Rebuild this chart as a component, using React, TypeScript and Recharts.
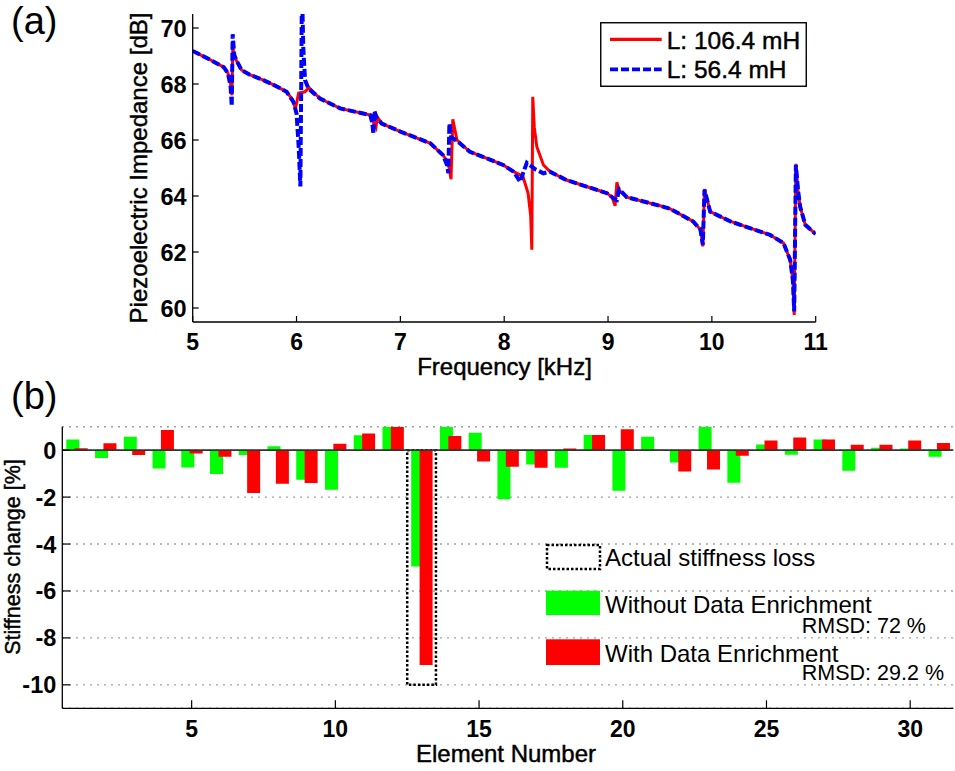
import React from 'react';
import {
  LineChart, Line, XAxis, YAxis, Legend, BarChart, Bar, CartesianGrid, ReferenceArea, ReferenceLine,
} from 'recharts';

const FONT = '"Liberation Sans", Arial, Helvetica, sans-serif';

// ---------- Panel (a): piezoelectric impedance ----------
const redFreq = [5.00, 5.15, 5.30, 5.34, 5.365, 5.378, 5.386, 5.40, 5.42, 5.47, 5.55, 5.68, 5.80, 5.905, 5.96, 5.99, 6.02, 6.08, 6.12, 6.226, 6.42, 6.60, 6.71, 6.73, 6.765, 6.778, 6.82, 7.00, 7.29, 7.41, 7.46, 7.488, 7.505, 7.545, 7.67, 7.99, 8.09, 8.18, 8.23, 8.255, 8.266, 8.275, 8.29, 8.314, 8.378, 8.44, 8.60, 8.99, 9.04, 9.068, 9.085, 9.107, 9.18, 9.50, 9.60, 9.82, 9.89, 9.913, 9.929, 9.984, 10.18, 10.56, 10.69, 10.754, 10.78, 10.793, 10.809, 10.83, 10.85, 10.90, 11.00];
const redImp = [69.18, 68.90, 68.60, 68.38, 68.00, 67.60, 69.30, 69.00, 68.85, 68.50, 68.33, 68.14, 67.93, 67.72, 67.45, 67.12, 67.68, 67.72, 67.87, 67.48, 67.13, 66.98, 66.89, 66.70, 66.45, 66.83, 66.59, 66.30, 65.88, 65.46, 65.20, 64.60, 66.74, 66.00, 65.58, 65.11, 64.87, 64.70, 64.10, 63.30, 62.08, 67.54, 66.45, 65.76, 65.11, 64.87, 64.57, 64.10, 63.95, 63.65, 64.49, 64.20, 63.96, 63.65, 63.54, 63.09, 62.80, 62.20, 64.25, 63.44, 63.09, 62.61, 62.32, 61.72, 61.00, 59.75, 65.15, 64.20, 63.62, 62.97, 62.64];

const blueFreq = [5.00, 5.15, 5.30, 5.34, 5.365, 5.376, 5.385, 5.40, 5.42, 5.47, 5.55, 5.68, 5.80, 5.905, 5.97, 6.00, 6.02, 6.037, 6.045, 6.052, 6.065, 6.082, 6.114, 6.226, 6.42, 6.60, 6.71, 6.73, 6.74, 6.75, 6.77, 6.82, 7.00, 7.29, 7.41, 7.45, 7.462, 7.472, 7.49, 7.55, 7.67, 7.99, 8.09, 8.153, 8.218, 8.30, 8.378, 8.44, 8.60, 8.99, 9.06, 9.085, 9.107, 9.18, 9.50, 9.60, 9.82, 9.89, 9.913, 9.929, 9.984, 10.18, 10.56, 10.69, 10.754, 10.78, 10.793, 10.809, 10.83, 10.85, 10.90, 11.00];
const blueImp = [69.18, 68.90, 68.60, 68.38, 67.90, 67.21, 69.78, 69.05, 68.85, 68.50, 68.33, 68.14, 67.93, 67.72, 67.36, 66.95, 65.80, 64.34, 68.00, 71.50, 69.30, 68.14, 67.84, 67.48, 67.13, 66.98, 66.89, 66.60, 66.21, 67.04, 66.80, 66.59, 66.30, 65.88, 65.46, 65.10, 64.81, 66.59, 66.10, 65.95, 65.58, 65.11, 64.87, 64.51, 65.19, 64.95, 64.81, 64.87, 64.57, 64.10, 63.90, 63.86, 64.24, 63.96, 63.65, 63.54, 63.09, 62.80, 62.26, 64.22, 63.44, 63.09, 62.61, 62.32, 61.72, 61.00, 59.88, 65.11, 64.20, 63.62, 62.97, 62.64];

const freqTicks = [5, 6, 7, 8, 9, 10, 11];
const impTicks = [60, 62, 64, 66, 68, 70];
const seriesNamesA = ['L: 106.4 mH', 'L: 56.4 mH'];

// ---------- Panel (b): stiffness change ----------
const elements = [1, 2, 3, 4, 5, 6, 7, 8, 9, 10, 11, 12, 13, 14, 15, 16, 17, 18, 19, 20, 21, 22, 23, 24, 25, 26, 27, 28, 29, 30, 31];
const withoutEnrichment = [0.45, -0.33, 0.57, -0.78, -0.74, -1.02, -0.21, 0.17, -1.26, -1.69, 0.64, 1.0, -4.96, 1.0, 0.74, -2.09, -0.61, -0.75, 0.65, -1.73, 0.57, -0.53, 1.0, -1.39, 0.24, -0.2, 0.45, -0.88, 0.1, 0.07, -0.28];
const withEnrichment = [0.08, 0.3, -0.21, 0.86, -0.14, -0.28, -1.83, -1.43, -1.4, 0.27, 0.71, 1.0, -9.15, 0.6, -0.48, -0.71, -0.75, 0.07, 0.65, 0.89, 0.02, -0.91, -0.82, -0.24, 0.41, 0.54, 0.45, 0.23, 0.23, 0.41, 0.31];
const actualLossElements = [13];
const actualLossValues = [-10];
const elementTicks = [5, 10, 15, 20, 25, 30];
const stiffTicks = [0, -2, -4, -6, -8, -10];
const legendLabelsB = ['Actual stiffness loss', 'Without Data Enrichment', 'With Data Enrichment'];
const rmsdLabels = ['RMSD: 72 %', 'RMSD: 29.2 %'];

const redData = redFreq.map((f, i) => ({ f, v: redImp[i] }));
const blueData = blueFreq.map((f, i) => ({ f, v: blueImp[i] }));
const barData = elements.map((el, i) => ({ el, without: withoutEnrichment[i], with: withEnrichment[i] }));

// ---------- custom ticks ----------
const makeBottomTick = (len: number, labelDy: number, fs: number, filter?: (v: number) => boolean) => (props: any) => {
  const { x, y, payload } = props;
  if (filter && !filter(payload.value)) return <g />;
  return (
    <g>
      <line x1={x} y1={y} x2={x} y2={y - len} stroke="#000" strokeWidth={1.2} />
      <text x={x} y={y + labelDy} textAnchor="middle" fontFamily={FONT} fontSize={fs} fontWeight={700} fill="#000">
        {payload.value}
      </text>
    </g>
  );
};

const LeftTick = (props: any) => {
  const { x, y, payload, len, fs } = props;
  return (
    <g>
      <line x1={x} y1={y} x2={x + len} y2={y} stroke="#000" strokeWidth={1.2} />
      <text x={x - 6} y={y + 8.5} textAnchor="end" fontFamily={FONT} fontSize={fs} fontWeight={700} fill="#000">
        {payload.value}
      </text>
    </g>
  );
};
const makeTopTick = (len: number, color: string) => (props: any) => {
  const { x, y } = props;
  return <line x1={x} y1={y} x2={x} y2={y + len} stroke={color} strokeWidth={1.2} />;
};
const makeRightTick = (len: number, color: string) => (props: any) => {
  const { x, y } = props;
  return <line x1={x} y1={y} x2={x - len} y2={y} stroke={color} strokeWidth={1.2} />;
};

const heavy = { stroke: '#000', strokeWidth: 0.45 };

const LegendA = () => (
  <svg width={208} height={66} style={{ display: 'block' }}>
    <rect x={0.75} y={0.75} width={205.5} height={63.5} fill="#fff" stroke="#000" strokeWidth={1.4} />
    <line x1={10} y1={17.3} x2={61.7} y2={17.3} stroke="#ff0000" strokeWidth={3.2} />
    <text x={66.7} y={26.6} fontFamily={FONT} fontSize={24.5} fill="#000" {...heavy}>{seriesNamesA[0]}</text>
    <line x1={10} y1={47.3} x2={61.7} y2={47.3} stroke="#0000ff" strokeWidth={3.8} strokeDasharray="8 3" />
    <text x={66.7} y={56.3} fontFamily={FONT} fontSize={24.5} fill="#000" {...heavy}>{seriesNamesA[1]}</text>
  </svg>
);

const LegendB = () => (
  <svg width={410} height={146} style={{ display: 'block' }}>
    <rect x={7} y={5} width={53} height={24} fill="none" stroke="#000" strokeWidth={2.5} strokeDasharray="2.5 2" />
    <text x={65} y={25.7} fontFamily={FONT} fontSize={24} fill="#000">{legendLabelsB[0]}</text>
    <rect x={6} y={50.7} width={54} height={24.3} fill="#00ff00" />
    <text x={65} y={72.7} fontFamily={FONT} fontSize={24} fill="#000">{legendLabelsB[1]}</text>
    <text x={386} y={93.3} textAnchor="end" fontFamily={FONT} fontSize={21.5} fill="#000">{rmsdLabels[0]}</text>
    <rect x={6} y={99.3} width={54} height={25.7} fill="#ff0000" />
    <text x={65} y={121.7} fontFamily={FONT} fontSize={24} fill="#000">{legendLabelsB[2]}</text>
    <text x={404} y={140} textAnchor="end" fontFamily={FONT} fontSize={21.5} fill="#000">{rmsdLabels[1]}</text>
  </svg>
);

export default function App() {
  return (
    <div style={{ position: 'absolute', left: 0, top: 0, width: 955, height: 771, overflow: 'hidden', background: '#fff', fontFamily: FONT }}>
      {/* Panel (a) */}
      <div style={{ position: 'absolute', left: 0, top: 0 }}>
        <LineChart width={955} height={390} margin={{ top: 14, right: 139.3, bottom: 0, left: 0 }}>
          <XAxis xAxisId={0} dataKey="f" type="number" domain={[5, 11]} ticks={freqTicks} allowDataOverflow
            height={68} tickSize={0} tickMargin={0} tickLine={false} axisLine={{ stroke: '#000', strokeWidth: 1.3 }}
            tick={makeBottomTick(6, 28, 23)} interval={0} />
          <XAxis xAxisId="top" orientation="top" type="number" domain={[5, 11]} ticks={freqTicks} allowDataOverflow
            height={0} tickSize={0} tickMargin={0} tickLine={false} axisLine={{ stroke: '#808080', strokeWidth: 1.5 }}
            tick={makeTopTick(6, '#808080')} interval={0} />
          <YAxis yAxisId={0} type="number" domain={[59.5, 70.5]} ticks={impTicks} allowDataOverflow width={192.7}
            tickSize={0} tickMargin={0} tickLine={false} axisLine={{ stroke: '#000', strokeWidth: 1.3 }}
            tick={<LeftTick len={6} fs={23.5} />} interval={0} />
          <YAxis yAxisId="right" orientation="right" type="number" domain={[59.5, 70.5]} ticks={impTicks} allowDataOverflow width={0}
            tickSize={0} tickMargin={0} tickLine={false} axisLine={{ stroke: '#808080', strokeWidth: 1.5 }}
            tick={makeRightTick(6, '#808080')} interval={0} />
          <Line data={redData} dataKey="v" name={seriesNamesA[0]} type="linear" stroke="#ff0000" strokeWidth={3}
            dot={false} activeDot={false} isAnimationActive={false} />
          <Line data={blueData} dataKey="v" name={seriesNamesA[1]} type="linear" stroke="#0000ff" strokeWidth={4}
            strokeDasharray="8 3" dot={false} activeDot={false} isAnimationActive={false} />
          <Legend layout="horizontal" verticalAlign="middle" align="center"
            wrapperStyle={{ left: 600, top: 22, width: 208, height: 66 }} content={() => <LegendA />} />
        </LineChart>
      </div>

      {/* Panel (b) */}
      <div style={{ position: 'absolute', left: 0, top: 390 }}>
        <BarChart width={955} height={381} data={barData} barGap={-4.6}
          margin={{ top: 36.7, right: 1.7, bottom: 0, left: 0 }}>
          <CartesianGrid horizontal vertical={false} stroke="#7a7a7a" strokeWidth={1.4} strokeDasharray="1.4 5.6" />
          <XAxis xAxisId={0} dataKey="el" type="category" height={62.7} tickSize={0} tickMargin={0} tickLine={false}
            axisLine={{ stroke: '#000', strokeWidth: 1.3 }} interval={0}
            tick={makeBottomTick(8, 28.4, 23, (v: number) => elementTicks.includes(v))} />
          <XAxis xAxisId="top" orientation="top" type="number" domain={[0.5, 31.5]} ticks={elementTicks} allowDataOverflow
            height={0} tickSize={0} tickMargin={0} tickLine={false} axisLine={{ stroke: '#000', strokeWidth: 1.3 }}
            tick={makeTopTick(8, '#000')} interval={0} />
          <YAxis yAxisId={0} type="number" domain={[-11, 1]} ticks={stiffTicks} allowDataOverflow width={62.3}
            tickSize={0} tickMargin={0} tickLine={false} axisLine={{ stroke: '#000', strokeWidth: 1.3 }}
            tick={<LeftTick len={8} fs={23.5} />} interval={0} />
          <YAxis yAxisId="right" orientation="right" type="number" domain={[-11, 1]} ticks={stiffTicks} allowDataOverflow width={0}
            tickSize={0} tickMargin={0} tickLine={false} axisLine={{ stroke: '#000', strokeWidth: 1.3 }}
            tick={makeRightTick(8, '#000')} interval={0} />
          <Bar dataKey="without" name={legendLabelsB[1]} fill="#00ff00" barSize={13} isAnimationActive={false} />
          <Bar dataKey="with" name={legendLabelsB[2]} fill="#ff0000" barSize={13} isAnimationActive={false} />
          <ReferenceLine y={0} stroke="#333" strokeWidth={1.6} />
          {actualLossElements.map((el, i) => (
            <ReferenceArea key={el} x1={el} x2={el} y1={0} y2={actualLossValues[i]} fill="none" fillOpacity={0}
              stroke="#000" strokeWidth={2.5} strokeDasharray="2.5 2" ifOverflow="visible" />
          ))}
          <Legend layout="horizontal" verticalAlign="middle" align="center"
            wrapperStyle={{ left: 540, top: 150, width: 410, height: 146 }} content={() => <LegendB />} />
        </BarChart>
      </div>

      {/* Titles and panel labels */}
      <svg width={955} height={771} style={{ position: 'absolute', left: 0, top: 0, pointerEvents: 'none' }}>
        <text x={11} y={33.7} fontFamily={FONT} fontSize={38} fill="#000">(a)</text>
        <text x={11} y={409} fontFamily={FONT} fontSize={38} fill="#000">(b)</text>
        <text transform="translate(146.7,168) rotate(-90)" textAnchor="middle" fontFamily={FONT} fontSize={24} fill="#000" {...heavy}>
          Piezoelectric Impedance [dB]
        </text>
        <text x={504.5} y={375} textAnchor="middle" fontFamily={FONT} fontSize={24} fill="#000" {...heavy}>Frequency [kHz]</text>
        <text transform="translate(19.5,557) rotate(-90)" textAnchor="middle" fontFamily={FONT} fontSize={21.5} fill="#000" {...heavy}>
          Stiffness change [%]
        </text>
        <text x={506} y={761.7} textAnchor="middle" fontFamily={FONT} fontSize={24} fill="#000" {...heavy}>Element Number</text>
      </svg>
    </div>
  );
}
